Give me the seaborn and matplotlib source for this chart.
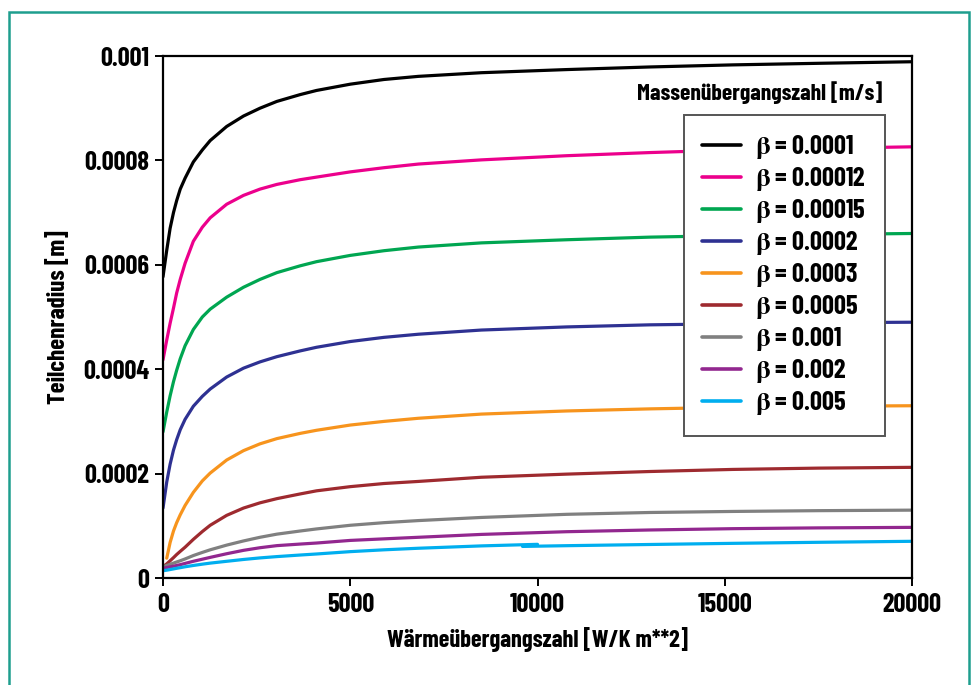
import numpy as np
import pandas as pd
import matplotlib
matplotlib.use("Agg")
import matplotlib.pyplot as plt
import matplotlib.patches as patches
import seaborn as sns

# Wärmeübergangszahl [W/K m**2] sample positions
h = [0, 100, 190, 280, 365, 460, 590, 810, 1050, 1260, 1700, 2150, 2590, 3040,
     3660, 4100, 5000, 5900, 6820, 8500, 10780, 13000, 15220, 17500, 20000]

# Teilchenradius [m], one list per beta
r_b0001 = [0.000577, 0.000628, 0.000670, 0.000700, 0.000723, 0.000745, 0.000766, 0.000797,
           0.000820, 0.000838, 0.000865, 0.000885, 0.000900, 0.000913, 0.000926, 0.000934,
           0.000946, 0.000955, 0.000961, 0.000968, 0.000974, 0.000979, 0.000983, 0.000986, 0.000989]
r_b00012 = [0.000418, 0.000456, 0.000488, 0.000517, 0.000546, 0.000572, 0.000603, 0.000645,
            0.000672, 0.000690, 0.000716, 0.000733, 0.000745, 0.000754, 0.000763, 0.000768,
            0.000778, 0.000786, 0.000793, 0.000801, 0.000809, 0.000815, 0.000820, 0.000823, 0.000826]
r_b00015 = [0.000280, 0.000318, 0.000349, 0.000376, 0.000398, 0.000420, 0.000445, 0.000476,
            0.000500, 0.000515, 0.000538, 0.000557, 0.000572, 0.000585, 0.000598, 0.000606,
            0.000618, 0.000627, 0.000634, 0.000642, 0.000648, 0.000653, 0.000656, 0.000658, 0.000660]
r_b0002 = [0.000134, 0.000184, 0.000218, 0.000245, 0.000265, 0.000284, 0.000304, 0.000329,
           0.000348, 0.000362, 0.000385, 0.000402, 0.000414, 0.000424, 0.000435, 0.000442,
           0.000453, 0.000461, 0.000467, 0.000475, 0.000481, 0.000485, 0.000487, 0.000489, 0.000490]
r_b0003 = [np.nan, 0.000038, 0.000068, 0.000090, 0.000106, 0.000121, 0.000139, 0.000164,
           0.000186, 0.000201, 0.000226, 0.000244, 0.000257, 0.000267, 0.000277, 0.000283,
           0.000293, 0.000300, 0.000306, 0.000314, 0.000320, 0.000324, 0.000327, 0.000329, 0.000330]
r_b0005 = [0.0000217, 0.0000270, 0.0000330, 0.0000390, 0.0000450, 0.0000510, 0.0000590, 0.0000740,
           0.0000890, 0.0001010, 0.0001200, 0.0001340, 0.0001440, 0.0001520, 0.0001610, 0.0001670,
           0.0001750, 0.0001810, 0.0001850, 0.0001930, 0.0001990, 0.0002040, 0.0002080, 0.0002105, 0.0002120]
r_b001 = [0.0000217, 0.0000240, 0.0000262, 0.0000285, 0.0000307, 0.0000330, 0.0000365, 0.0000430,
          0.0000490, 0.0000540, 0.0000630, 0.0000710, 0.0000780, 0.0000840, 0.0000900, 0.0000940,
          0.0001010, 0.0001060, 0.0001100, 0.0001160, 0.0001220, 0.0001255, 0.0001275, 0.0001290, 0.0001300]
r_b002 = [0.0000186, 0.0000200, 0.0000213, 0.0000226, 0.0000240, 0.0000255, 0.0000280, 0.0000320,
          0.0000360, 0.0000395, 0.0000465, 0.0000530, 0.0000580, 0.0000620, 0.0000650, 0.0000670,
          0.0000720, 0.0000750, 0.0000780, 0.0000835, 0.0000887, 0.0000920, 0.0000945, 0.0000960, 0.0000970]

# beta = 0.005 is drawn as two slightly offset pieces in the original
h_b005_a = [0, 100, 190, 280, 365, 460, 590, 810, 1050, 1260, 1700, 2150, 2590, 3040,
            3660, 4100, 5000, 5900, 6820, 8500, 10000]
r_b005_a = [0.0000140, 0.0000150, 0.0000162, 0.0000174, 0.0000186, 0.0000198, 0.0000215, 0.0000240,
            0.0000265, 0.0000285, 0.0000320, 0.0000355, 0.0000385, 0.0000410, 0.0000440, 0.0000460,
            0.0000505, 0.0000540, 0.0000570, 0.0000615, 0.0000645]
h_b005_b = [9600, 10780, 13000, 15220, 17500, 20000]
r_b005_b = [0.0000605, 0.0000619, 0.0000642, 0.0000664, 0.0000684, 0.0000703]

betas = ["0.0001", "0.00012", "0.00015", "0.0002", "0.0003", "0.0005", "0.001", "0.002", "0.005"]
colors = ["#000000", "#EC008C", "#00A651", "#2E3192", "#F7941D", "#9E2A2F", "#808080", "#92278F", "#00AEEF"]

y_ticks = [0, 0.0002, 0.0004, 0.0006, 0.0008, 0.001]
y_ticklabels = ["0", "0.0002", "0.0004", "0.0006", "0.0008", "0.001"]
x_ticks = [0, 5000, 10000, 15000, 20000]


def build_frame():
    series = [r_b0001, r_b00012, r_b00015, r_b0002, r_b0003, r_b0005, r_b001, r_b002]
    parts = []
    for b, r in zip(betas[:-1], series):
        parts.append(pd.DataFrame({"h": h, "r": r, "beta": b, "seg": b}))
    parts.append(pd.DataFrame({"h": h_b005_a, "r": r_b005_a, "beta": betas[-1], "seg": "005a"}))
    parts.append(pd.DataFrame({"h": h_b005_b, "r": r_b005_b, "beta": betas[-1], "seg": "005b"}))
    return pd.concat(parts, ignore_index=True).dropna()


sns.set_style("ticks")
plt.rcParams["font.family"] = ["Barlow Condensed", "DejaVu Sans"]
plt.rcParams["font.weight"] = "bold"
plt.rcParams["mathtext.fontset"] = "stix"
for k in ["text.color", "axes.labelcolor", "xtick.color", "ytick.color", "axes.edgecolor"]:
    plt.rcParams[k] = "black"

df = build_frame()

fig = plt.figure(figsize=(9.75, 6.85), dpi=100, facecolor="white")
ax = fig.add_axes([163 / 975, 1 - 578 / 685, (912 - 163) / 975, (578 - 56) / 685])

sns.lineplot(data=df, x="h", y="r", hue="beta", units="seg", estimator=None,
             hue_order=betas, palette=dict(zip(betas, colors)),
             linewidth=2.3, ax=ax, legend=False)

ax.set_xlim(0, 20000)
ax.set_ylim(0, 0.001)
ax.set_xticks(x_ticks)
ax.set_xticklabels([str(t) for t in x_ticks])
ax.set_yticks(y_ticks)
ax.set_yticklabels(y_ticklabels)
ax.tick_params(direction="out", length=6, width=1.4, labelsize=19)
ax.tick_params(axis="x", pad=5)
ax.tick_params(axis="y", pad=4)
for s in ax.spines.values():
    s.set_linewidth(1.6)

ax.set_xlabel("Wärmeübergangszahl [W/K m**2]", fontsize=17.5, fontweight="bold", labelpad=7)
ax.set_ylabel("Teilchenradius [m]", fontsize=18, fontweight="bold", labelpad=9)

handles = [plt.Line2D([], [], color=c, linewidth=2.6) for c in colors]
labels = [r"$\mathrm{\beta}$ = " + b for b in betas]
leg = ax.legend(handles, labels, loc="upper left", bbox_to_anchor=((684 - 163) / 749, (578 - 115) / 522),
                borderaxespad=0, fontsize=19, frameon=True, fancybox=False, framealpha=1,
                handlelength=1.45, handletextpad=0.55, borderpad=0.7, labelspacing=0.15)
leg.get_frame().set_edgecolor("#555555")
leg.get_frame().set_linewidth(1.4)

ax.text((882 - 163) / 749, (578 - 93) / 522, "Massenübergangszahl [m/s]", transform=ax.transAxes,
        ha="right", va="center", fontsize=17, fontweight="bold")

# teal frame around the whole graphic
fig.patches.append(patches.Rectangle((9 / 975, -0.01), (969 - 9) / 975, 1 - 12 / 685 + 0.01,
                                     transform=fig.transFigure, fill=False,
                                     edgecolor="#1E9E8E", linewidth=1.8))

fig.savefig("out.png", dpi=100, facecolor="white")
